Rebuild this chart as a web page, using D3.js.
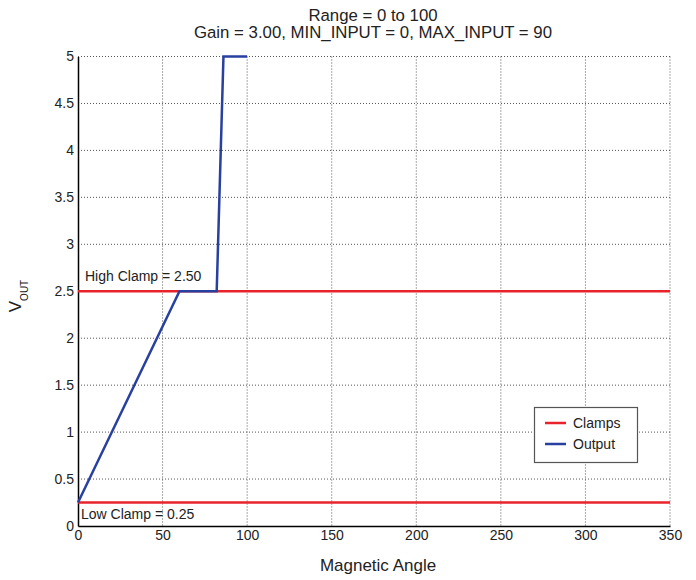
<!DOCTYPE html>
<html><head><meta charset="utf-8">
<script src="https://cdn.jsdelivr.net/npm/d3@7"></script>
<style>body{margin:0;background:#fff;font-family:"Liberation Sans",Arial,sans-serif;}</style>
</head><body>
<svg id="c" width="696" height="580"></svg>
<script>
const xTicks = [0,50,100,150,200,250,300,350];
const yTicks = [0,0.5,1,1.5,2,2.5,3,3.5,4,4.5,5];
const outputX = [0,60,82,86,100];
const outputY = [0.25,2.5,2.5,5,5];
const clampNames = ["Low Clamp","High Clamp"];
const clampValues = [0.25,2.5];
const titleLines = ["Range = 0 to 100","Gain = 3.00, MIN_INPUT = 0, MAX_INPUT = 90"];
const legendItems = ["Clamps","Output"];

const svg = d3.select("#c");
const L=78, R=670, T=56.5, B=526;
const x = d3.scaleLinear().domain([0,350]).range([L,R]);
const y = d3.scaleLinear().domain([0,5]).range([B,T]);
const red="#e8232b", blue="#2841a0";
const font="Liberation Sans, Arial, sans-serif";

// grid
const g = svg.append("g");
g.selectAll(".vg").data(xTicks.slice(1)).join("line")
  .attr("x1",d=>x(d)).attr("x2",d=>x(d)).attr("y1",T).attr("y2",B)
  .attr("stroke","#555").attr("stroke-width",1).attr("stroke-dasharray","1,2");
g.selectAll(".hg").data(yTicks.slice(1)).join("line")
  .attr("x1",L).attr("x2",R).attr("y1",d=>y(d)).attr("y2",d=>y(d))
  .attr("stroke","#555").attr("stroke-width",1).attr("stroke-dasharray","1,2");

// axes
const xa = svg.append("g").attr("transform",`translate(0,${B})`)
  .call(d3.axisBottom(x).tickValues(xTicks).tickSize(0).tickPadding(4).tickFormat(d3.format("d")));
const ya = svg.append("g").attr("transform",`translate(${L},0)`)
  .call(d3.axisLeft(y).tickValues(yTicks).tickSize(0).tickPadding(4).tickFormat(d=>String(d)));
[xa,ya].forEach(a=>{a.select(".domain").attr("stroke","#000").attr("stroke-width",1.5);
  a.selectAll("text").attr("font-family",font).attr("font-size",14).attr("fill","#222");});

// clamps
svg.selectAll(".clamp").data(clampValues).join("line")
  .attr("x1",L).attr("x2",R).attr("y1",d=>y(d)).attr("y2",d=>y(d))
  .attr("stroke",red).attr("stroke-width",2.5);

// output
const pts = outputX.map((v,i)=>[v,outputY[i]]);
svg.append("path").datum(pts)
  .attr("d",d3.line().x(d=>x(d[0])).y(d=>y(d[1])))
  .attr("fill","none").attr("stroke",blue).attr("stroke-width",2.5);

// clamp labels
svg.append("text").attr("x",85).attr("y",y(clampValues[1])-10.5)
  .attr("font-family",font).attr("font-size",14).attr("fill","#222")
  .text(`${clampNames[1]} = ${clampValues[1].toFixed(2)}`);
svg.append("text").attr("x",81).attr("y",y(clampValues[0])+16)
  .attr("font-family",font).attr("font-size",14).attr("fill","#222")
  .text(`${clampNames[0]} = ${clampValues[0].toFixed(2)}`);

// titles
titleLines.forEach((t,i)=>svg.append("text").attr("x",373).attr("y",20.5+i*17.5)
  .attr("text-anchor","middle").attr("font-family",font).attr("font-size",16.8).attr("fill","#222").text(t));

// axis labels
svg.append("text").attr("x",378).attr("y",571).attr("text-anchor","middle")
  .attr("font-family",font).attr("font-size",17).attr("fill","#222").text("Magnetic Angle");
const yl = svg.append("text").attr("transform","translate(21,296) rotate(-90)")
  .attr("text-anchor","middle").attr("font-family",font).attr("font-size",17).attr("fill","#222");
yl.append("tspan").text("V");
yl.append("tspan").attr("font-size",10).attr("dy",7).text("OUT");

// legend
const lg = svg.append("g");
lg.append("rect").attr("x",534.5).attr("y",407.5).attr("width",103).attr("height",55)
  .attr("fill","#fff").attr("stroke","#555").attr("stroke-width",1.2);
legendItems.forEach((n,i)=>{
  const yy = 423 + i*21;
  lg.append("line").attr("x1",545).attr("x2",566).attr("y1",yy).attr("y2",yy)
    .attr("stroke",i===0?red:blue).attr("stroke-width",2.5);
  lg.append("text").attr("x",573).attr("y",yy+5).attr("font-family",font).attr("font-size",14)
    .attr("fill","#222").text(n);
});
</script>
</body></html>
